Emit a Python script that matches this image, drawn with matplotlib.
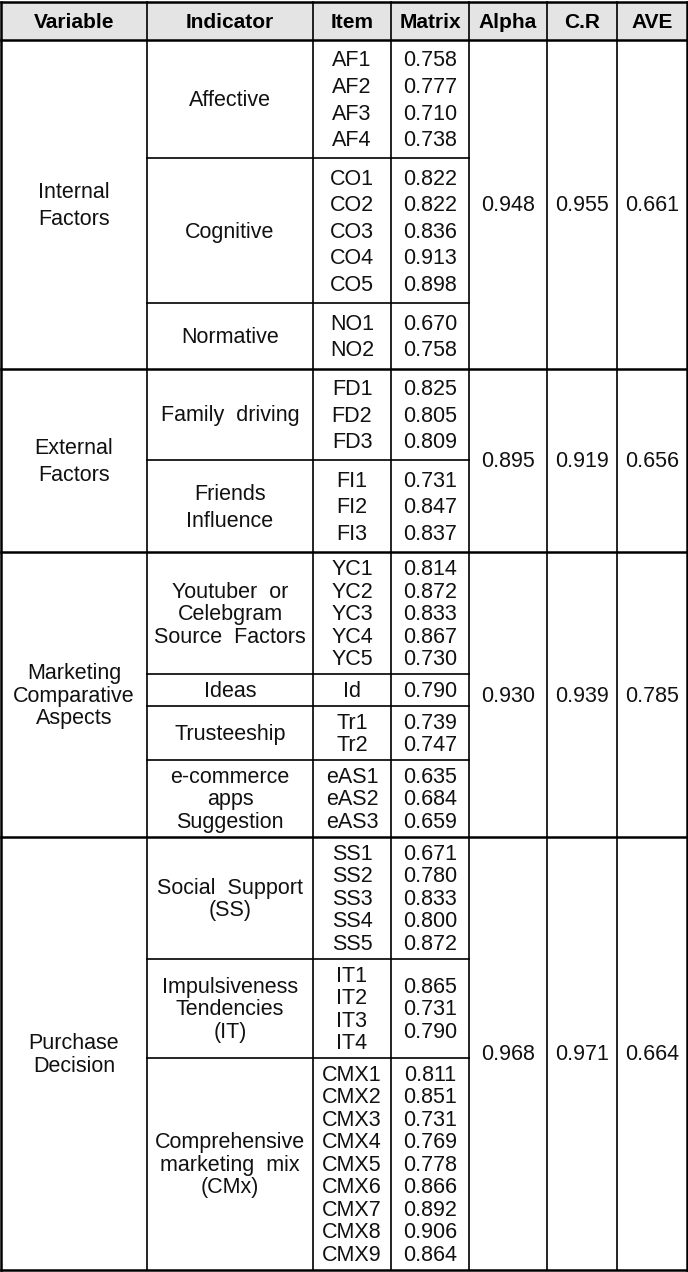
import matplotlib
matplotlib.use('Agg')
import matplotlib.pyplot as plt
from matplotlib.patches import Rectangle

# Table data
headers = ['Variable', 'Indicator', 'Item', 'Matrix', 'Alpha', 'C.R', 'AVE']
variables = ['Internal\nFactors', 'External\nFactors',
             'Marketing\nComparative\nAspects', 'Purchase\nDecision']
alpha = [0.948, 0.895, 0.930, 0.968]
cr = [0.955, 0.919, 0.939, 0.971]
ave = [0.661, 0.656, 0.785, 0.664]

indicators = [
    ['Affective', 'Cognitive', 'Normative'],
    ['Family  driving', 'Friends\nInfluence'],
    ['Youtuber  or\nCelebgram\nSource  Factors', 'Ideas', 'Trusteeship',
     'e-commerce\napps\nSuggestion'],
    ['Social  Support\n(SS)', 'Impulsiveness\nTendencies\n(IT)',
     'Comprehensive\nmarketing  mix\n(CMx)'],
]
items = [
    [['AF1', 'AF2', 'AF3', 'AF4'], ['CO1', 'CO2', 'CO3', 'CO4', 'CO5'], ['NO1', 'NO2']],
    [['FD1', 'FD2', 'FD3'], ['FI1', 'FI2', 'FI3']],
    [['YC1', 'YC2', 'YC3', 'YC4', 'YC5'], ['Id'], ['Tr1', 'Tr2'], ['eAS1', 'eAS2', 'eAS3']],
    [['SS1', 'SS2', 'SS3', 'SS4', 'SS5'], ['IT1', 'IT2', 'IT3', 'IT4'],
     ['CMX1', 'CMX2', 'CMX3', 'CMX4', 'CMX5', 'CMX6', 'CMX7', 'CMX8', 'CMX9']],
]
loadings = [
    [[0.758, 0.777, 0.710, 0.738], [0.822, 0.822, 0.836, 0.913, 0.898], [0.670, 0.758]],
    [[0.825, 0.805, 0.809], [0.731, 0.847, 0.837]],
    [[0.814, 0.872, 0.833, 0.867, 0.730], [0.790], [0.739, 0.747], [0.635, 0.684, 0.659]],
    [[0.671, 0.780, 0.833, 0.800, 0.872], [0.865, 0.731, 0.790],
     [0.811, 0.851, 0.731, 0.769, 0.778, 0.866, 0.892, 0.906, 0.864]],
]

# Layout (pixel units)
col_x = [1, 147, 313, 391, 469, 547, 617, 687]
top, head_bot = 2, 40
row_h = [26.6, 26.6, 22.5, 22.5]
pad = [12, 12, 9.3, 9.3]
fs = 15.5
dy = 1.5  # nudge text down so glyphs sit centred like the original
font = ['Liberation Sans', 'DejaVu Sans']
thin, thick = 1.2, 1.8

fig = plt.figure(figsize=(6.88, 12.72), dpi=100)
ax = fig.add_axes([0, 0, 1, 1])
ax.set_xlim(0, 688)
ax.set_ylim(1272, 0)
ax.axis('off')

def cx(c):
    return (col_x[c] + col_x[c + 1]) / 2

def lines_text(x, yc, text, rh):
    parts = text.split('\n')
    n = len(parts)
    for k, p in enumerate(parts):
        y = yc + (k - (n - 1) / 2) * rh + dy
        ax.text(x, y, p, ha='center', va='center', fontsize=fs, family=font,
                color='#111111')

# Header
ax.add_patch(Rectangle((col_x[0], top), col_x[-1] - col_x[0], head_bot - top,
                       facecolor='#e4e4e4', edgecolor='none', zorder=0))
for c, h in enumerate(headers):
    ax.text(cx(c), (top + head_bot) / 2 + dy, h, ha='center', va='center',
            fontsize=15, fontweight='bold', family=font)

y = head_bot
for v in range(len(variables)):
    v_top = y
    rh = row_h[v]
    for i in range(len(indicators[v])):
        n_it = len(items[v][i])
        b_top = y
        b_h = n_it * rh + pad[v]
        yc = b_top + b_h / 2
        lines_text(cx(1), yc, indicators[v][i], rh)
        lines_text(cx(2), yc, '\n'.join(items[v][i]), rh)
        lines_text(cx(3), yc, '\n'.join(f'{x:.3f}' for x in loadings[v][i]), rh)
        y = b_top + b_h
        if i < len(indicators[v]) - 1:
            ax.plot([col_x[1], col_x[4]], [y, y], color='black', lw=thin)
    vc = (v_top + y) / 2
    lines_text(cx(0), vc, variables[v], rh)
    lines_text(cx(4), vc, f'{alpha[v]:.3f}', rh)
    lines_text(cx(5), vc, f'{cr[v]:.3f}', rh)
    lines_text(cx(6), vc, f'{ave[v]:.3f}', rh)
    ax.plot([col_x[0], col_x[-1]], [y, y], color='black', lw=thick)

bottom = y
ax.plot([col_x[0], col_x[-1]], [top, top], color='black', lw=thick)
ax.plot([col_x[0], col_x[-1]], [head_bot, head_bot], color='black', lw=thick)
for k, x in enumerate(col_x):
    lw = thick if k in (0, len(col_x) - 1) else thin
    ax.plot([x, x], [top, bottom], color='black', lw=lw)

fig.savefig('out.png', dpi=100)
